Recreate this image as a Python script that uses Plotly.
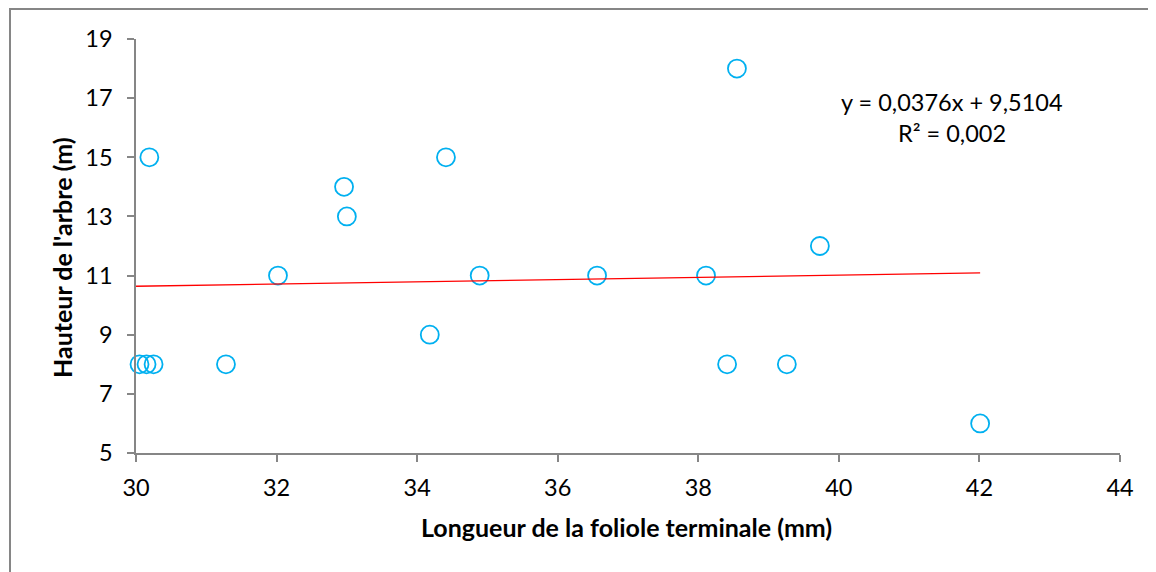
import plotly.graph_objects as go

# Data
longueur_mm = [30.05, 30.15, 30.25, 30.19, 31.28, 32.02, 32.96, 33.00, 34.18, 34.41,
               34.89, 36.56, 38.11, 38.55, 38.41, 39.26, 39.73, 42.01]
hauteur_m = [8, 8, 8, 15, 8, 11, 14, 13, 9, 15,
             11, 11, 11, 18, 8, 8, 12, 6]

trend_slope = 0.0376
trend_intercept = 9.5104
eq_label = "y = 0,0376x + 9,5104"
r2_label = "R² = 0,002"

x_ticks = [30, 32, 34, 36, 38, 40, 42, 44]
y_ticks = [5, 7, 9, 11, 13, 15, 17, 19]

FONT = "Lato"
AXIS_GREY = "#868686"
TICK_SIZE = 23.5
TITLE_SIZE = 25

trend_x = [30, max(longueur_mm)]
trend_y = [trend_slope * v + trend_intercept for v in trend_x]

# plot area in page pixels (page has an 8px body margin)
PL, PR, PT, PB = 136, 1120, 39, 453
PW, PH = PR - PL, PB - PT


def px(x):
    return (x - PL) / PW


def py(y):
    return (PB - y) / PH


fig = go.Figure()
fig.add_trace(go.Scatter(
    x=longueur_mm, y=hauteur_m, mode="markers",
    marker=dict(symbol="circle-open", size=18, color="#00B0F0",
                line=dict(width=1.8, color="#00B0F0")),
    showlegend=False, cliponaxis=False,
))
fig.add_trace(go.Scatter(
    x=trend_x, y=trend_y, mode="lines",
    line=dict(color="#FF0000", width=1.3),
    showlegend=False,
))

axis_common = dict(showgrid=False, zeroline=False,
                   showline=True, linecolor=AXIS_GREY, linewidth=1.5,
                   ticks="outside", ticklen=7, tickcolor=AXIS_GREY, tickwidth=1.5,
                   tickfont=dict(family=FONT, size=TICK_SIZE, color="#000000"),
                   fixedrange=True)

fig.update_layout(
    width=1148, height=564,
    margin=dict(l=PL - 8, r=1156 - PR, t=PT - 8, b=572 - PB),
    paper_bgcolor="white", plot_bgcolor="white",
    font=dict(family=FONT, size=TICK_SIZE, color="#000000"),
    xaxis=dict(range=[30, 44], tickvals=x_ticks, ticklabelstandoff=6, **axis_common),
    yaxis=dict(range=[5, 19], tickvals=y_ticks, ticklabelstandoff=10, **axis_common),
    shapes=[dict(type="rect", xref="paper", yref="paper",
                 x0=px(10), x1=1.2, y0=-0.5, y1=py(9),
                 line=dict(color=AXIS_GREY, width=2), fillcolor="rgba(0,0,0,0)",
                 layer="below")],
    annotations=[
        dict(text="<b>Longueur de la foliole terminale (mm)</b>", xref="paper", yref="paper",
             x=px(626), y=py(527), showarrow=False,
             xanchor="center", yanchor="middle", font=dict(family=FONT, size=TITLE_SIZE)),
        dict(text="<b>Hauteur de l'arbre (m)</b>", xref="paper", yref="paper",
             x=px(62), y=py(258), showarrow=False, textangle=-90,
             xanchor="center", yanchor="middle", font=dict(family=FONT, size=TITLE_SIZE)),
        dict(text=eq_label, xref="paper", yref="paper",
             x=px(952), y=py(102), showarrow=False,
             xanchor="center", yanchor="middle", font=dict(family=FONT, size=TICK_SIZE)),
        dict(text=r2_label, xref="paper", yref="paper",
             x=px(952), y=py(133), showarrow=False,
             xanchor="center", yanchor="middle", font=dict(family=FONT, size=TICK_SIZE)),
    ],
)

fig.write_html("out.html")
